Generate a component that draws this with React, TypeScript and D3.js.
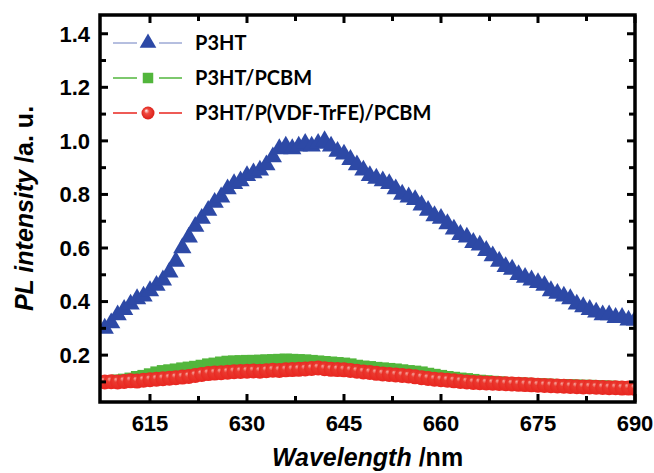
import React, { useEffect, useRef } from "react";
import * as d3 from "d3";

// wavelength grid (nm)
const wavelengths: number[] = d3.range(608, 691, 1);

// P3HT
const p3ht: number[] = [
  0.30, 0.32, 0.35, 0.37, 0.39, 0.41, 0.42, 0.44, 0.46, 0.48,
  0.51, 0.55, 0.60, 0.64, 0.68, 0.71, 0.74, 0.77, 0.79, 0.82,
  0.84, 0.85, 0.87, 0.88, 0.89, 0.91, 0.94, 0.97, 0.98, 0.97,
  0.98, 0.99, 0.98, 0.99, 1.00, 0.98, 0.96, 0.95, 0.93, 0.91,
  0.89, 0.87, 0.86, 0.85, 0.84, 0.82, 0.80, 0.79, 0.78, 0.76,
  0.74, 0.72, 0.71, 0.69, 0.67, 0.65, 0.64, 0.62, 0.61, 0.59,
  0.57, 0.55, 0.53, 0.52, 0.50, 0.49, 0.48, 0.47, 0.46, 0.44,
  0.43, 0.42, 0.41, 0.39, 0.38, 0.37, 0.36, 0.35, 0.35, 0.34,
  0.34, 0.33, 0.33,
];

// P3HT/PCBM
const p3htPcbm: number[] = [
  0.100, 0.102, 0.105, 0.108, 0.112, 0.118, 0.122, 0.128, 0.135, 0.140,
  0.143, 0.146, 0.150, 0.153, 0.156, 0.160, 0.165, 0.168, 0.172, 0.175,
  0.176, 0.177, 0.178, 0.178, 0.179, 0.180, 0.181, 0.182, 0.183, 0.182,
  0.181, 0.180, 0.178, 0.176, 0.174, 0.172, 0.170, 0.168, 0.165, 0.160,
  0.157, 0.155, 0.152, 0.150, 0.148, 0.146, 0.143, 0.140, 0.138, 0.135,
  0.130, 0.126, 0.122, 0.118, 0.115, 0.112, 0.110, 0.107, 0.104, 0.102,
  0.100, 0.098, 0.096, 0.095, 0.094, 0.093, 0.092, 0.091, 0.090, 0.089,
  0.088, 0.088, 0.087, 0.086, 0.085, 0.085, 0.084, 0.083, 0.082, 0.081,
  0.080, 0.080, 0.079,
];

// P3HT/P(VDF-TrFE)/PCBM
const p3htFerroPcbm: number[] = [
  0.100, 0.101, 0.100, 0.102, 0.104, 0.103, 0.106, 0.108, 0.110, 0.112,
  0.114, 0.116, 0.118, 0.120, 0.124, 0.128, 0.131, 0.133, 0.134, 0.136,
  0.138, 0.139, 0.140, 0.141, 0.140, 0.142, 0.144, 0.143, 0.145, 0.146,
  0.147, 0.148, 0.150, 0.152, 0.149, 0.147, 0.146, 0.145, 0.143, 0.140,
  0.137, 0.135, 0.132, 0.130, 0.128, 0.126, 0.124, 0.122, 0.119, 0.116,
  0.113, 0.110, 0.108, 0.106, 0.104, 0.102, 0.100, 0.098, 0.097, 0.096,
  0.095, 0.094, 0.093, 0.092, 0.091, 0.090, 0.089, 0.088, 0.087, 0.086,
  0.085, 0.084, 0.083, 0.082, 0.081, 0.081, 0.080, 0.079, 0.078, 0.078,
  0.077, 0.077, 0.076,
];

const seriesNames: string[] = ["P3HT", "P3HT/PCBM", "P3HT/P(VDF-TrFE)/PCBM"];
const xTicks: number[] = [615, 630, 645, 660, 675, 690];
const xMinorTicks: number[] = [622.5, 637.5, 652.5, 667.5, 682.5];
const yTicks: number[] = [0.2, 0.4, 0.6, 0.8, 1.0, 1.2, 1.4];
const yMinorTicks: number[] = [0.1, 0.3, 0.5, 0.7, 0.9, 1.1, 1.3];

const BLUE = "#2d49a6";
const GREEN = "#52b63c";
const RED = "#e8241e";

export default function App() {
  const ref = useRef<SVGSVGElement>(null);

  useEffect(() => {
    const svg = d3.select(ref.current);
    svg.selectAll("*").remove();

    const W = 654, H = 473;
    const left = 100, right = 635, top = 15, bottom = 402;

    const x = d3.scaleLinear().domain([607.27, 690]).range([left, right]);
    const y = d3.scaleLinear().domain([0.025, 1.47]).range([bottom, top]);

    svg.attr("width", W).attr("height", H);
    svg.append("rect").attr("width", W).attr("height", H).attr("fill", "#fff");

    const defs = svg.append("defs");
    defs.append("clipPath").attr("id", "plotclip")
      .append("rect")
      .attr("x", left).attr("y", top)
      .attr("width", right - left).attr("height", bottom - top);
    // red sphere: mostly solid with a faint highlight
    const grad = defs.append("radialGradient").attr("id", "ball")
      .attr("cx", "50%").attr("cy", "50%").attr("r", "55%")
      .attr("fx", "35%").attr("fy", "30%");
    grad.append("stop").attr("offset", "0%").attr("stop-color", "#f7a8a0");
    grad.append("stop").attr("offset", "30%").attr("stop-color", "#ea3a30");
    grad.append("stop").attr("offset", "100%").attr("stop-color", RED);
    const grad2 = defs.append("radialGradient").attr("id", "ballLegend")
      .attr("cx", "50%").attr("cy", "50%").attr("r", "55%")
      .attr("fx", "35%").attr("fy", "30%");
    grad2.append("stop").attr("offset", "0%").attr("stop-color", "#ffffff");
    grad2.append("stop").attr("offset", "35%").attr("stop-color", "#f04a40");
    grad2.append("stop").attr("offset", "100%").attr("stop-color", "#d81a14");

    const plot = svg.append("g").attr("clip-path", "url(#plotclip)");

    const tri = d3.symbol().type(d3.symbolTriangle).size(145)();
    const sq = d3.symbol().type(d3.symbolSquare).size(150)();

    // P3HT triangles
    plot.append("g").selectAll("path")
      .data(wavelengths)
      .join("path")
      .attr("d", tri)
      .attr("transform", (d, i) => `translate(${x(d)},${y(p3ht[i])})`)
      .attr("fill", BLUE);

    // P3HT/PCBM squares
    plot.append("g").selectAll("path")
      .data(wavelengths)
      .join("path")
      .attr("d", sq)
      .attr("transform", (d, i) => `translate(${x(d)},${y(p3htPcbm[i])})`)
      .attr("fill", GREEN);

    // P3HT/P(VDF-TrFE)/PCBM spheres
    plot.append("g").selectAll("circle")
      .data(wavelengths)
      .join("circle")
      .attr("cx", (d) => x(d))
      .attr("cy", (d, i) => y(p3htFerroPcbm[i]))
      .attr("r", 7.5)
      .attr("fill", "url(#ball)");

    // frame
    svg.append("rect")
      .attr("x", left).attr("y", top)
      .attr("width", right - left).attr("height", bottom - top)
      .attr("fill", "none").attr("stroke", "#000").attr("stroke-width", 3.5);

    const tickG = svg.append("g").attr("stroke", "#000").attr("stroke-width", 3);
    const major = 8, minor = 6;
    [...xTicks.map((t) => [t, major]), ...xMinorTicks.map((t) => [t, minor])].forEach(([t, len]) => {
      tickG.append("line").attr("x1", x(t)).attr("x2", x(t)).attr("y1", bottom).attr("y2", bottom - len);
      tickG.append("line").attr("x1", x(t)).attr("x2", x(t)).attr("y1", top).attr("y2", top + len);
    });
    [...yTicks.map((t) => [t, major]), ...yMinorTicks.map((t) => [t, minor])].forEach(([t, len]) => {
      tickG.append("line").attr("x1", left).attr("x2", left + len).attr("y1", y(t)).attr("y2", y(t));
      tickG.append("line").attr("x1", right).attr("x2", right - len).attr("y1", y(t)).attr("y2", y(t));
    });

    const labelFont = "'Liberation Sans', Arial, sans-serif";
    svg.append("g").selectAll("text")
      .data(xTicks)
      .join("text")
      .attr("x", (d) => x(d))
      .attr("y", 431)
      .attr("text-anchor", "middle")
      .attr("font-family", labelFont)
      .attr("font-weight", "bold")
      .attr("font-size", 22)
      .text((d) => d3.format("d")(d));

    svg.append("g").selectAll("text")
      .data(yTicks)
      .join("text")
      .attr("x", 90)
      .attr("y", (d) => y(d))
      .attr("dy", "0.36em")
      .attr("text-anchor", "end")
      .attr("font-family", labelFont)
      .attr("font-weight", "bold")
      .attr("font-size", 22)
      .text((d) => d3.format(".1f")(d));

    // axis titles
    const xt = svg.append("text")
      .attr("x", (left + right) / 2)
      .attr("y", 466)
      .attr("text-anchor", "middle")
      .attr("font-family", labelFont)
      .attr("font-weight", "bold")
      .attr("font-size", 25);
    xt.append("tspan").attr("font-style", "italic").text("Wavelength");
    xt.append("tspan").text(" /nm");

    const yt = svg.append("text")
      .attr("transform", `translate(33,${(top + bottom) / 2}) rotate(-90)`)
      .attr("text-anchor", "middle")
      .attr("font-family", labelFont)
      .attr("font-weight", "bold")
      .attr("font-size", 25);
    yt.append("tspan").attr("font-style", "italic").text("PL intensity");
    yt.append("tspan").text(" /a. u.");

    // legend
    const legendRows = [43, 78, 113];
    const colors = [BLUE, GREEN, RED];
    const lg = svg.append("g");
    seriesNames.forEach((name, i) => {
      const ry = legendRows[i];
      lg.append("line")
        .attr("x1", 113).attr("x2", 182)
        .attr("y1", ry).attr("y2", ry)
        .attr("stroke", colors[i]).attr("stroke-width", i === 0 ? 1 : 1.5)
        .attr("stroke-opacity", i === 0 ? 0.7 : 1);
      lg.append("rect").attr("x", 137).attr("y", ry - 9).attr("width", 22).attr("height", 18).attr("fill", "#fff");
      if (i === 0) {
        lg.append("path").attr("d", d3.symbol().type(d3.symbolTriangle).size(120)())
          .attr("transform", `translate(148,${ry})`).attr("fill", BLUE);
      } else if (i === 1) {
        lg.append("path").attr("d", d3.symbol().type(d3.symbolSquare).size(110)())
          .attr("transform", `translate(148,${ry})`).attr("fill", GREEN);
      } else {
        lg.append("circle").attr("cx", 148).attr("cy", ry).attr("r", 6.5).attr("fill", "url(#ballLegend)");
      }
      lg.append("text")
        .attr("x", 195).attr("y", ry)
        .attr("dy", "0.36em")
        .attr("font-family", "Lato, 'Open Sans', sans-serif")
        .attr("font-weight", "bold")
        .attr("font-size", 20)
        .text(name);
    });
  }, []);

  return (
    <div style={{ position: "absolute", left: 0, top: 0 }}>
      <svg ref={ref} style={{ display: "block" }} />
    </div>
  );
}
